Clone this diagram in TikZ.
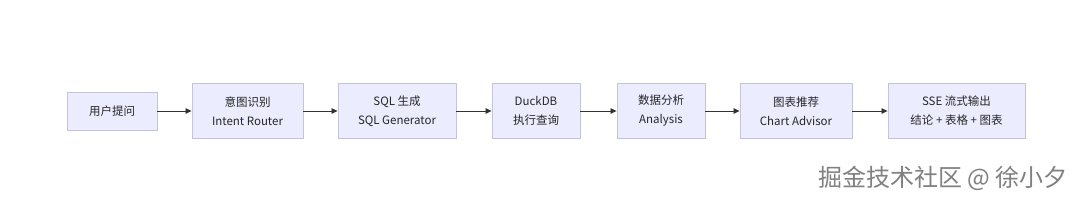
\documentclass[tikz,border=0pt]{standalone}
\usepackage{fontspec}
\setmainfont{Noto Sans CJK SC}
\newfontfamily\cjk{Noto Sans CJK SC}
\usetikzlibrary{arrows.meta}
\definecolor{boxfill}{HTML}{ECECFF}
\definecolor{boxline}{HTML}{C4C2DC}
\definecolor{arrowc}{HTML}{333333}
\definecolor{wm}{HTML}{808080}
\begin{document}
\begin{tikzpicture}[x=1pt,y=-1pt,
  stage/.style={draw=boxline, fill=boxfill, line width=0.9pt, minimum height=55pt,
    inner sep=0pt, align=center, font=\cjk\fontsize{11.5}{19}\selectfont, text=black!85},
  flow/.style={draw=arrowc, line width=0.8pt, -{Triangle[length=6pt,width=5.5pt]}}]
\useasboundingbox (0,0) rectangle (1080,201);
\fill[white] (0,0) rectangle (1080,201);
\node[stage, minimum width=90pt, minimum height=38pt] (n1) at (112,111) {用户提问};
\node[stage, minimum width=111pt] (n2) at (247.5,111) {意图识别\\Intent Router};
\node[stage, minimum width=118pt] (n3) at (397,111) {SQL 生成\\SQL Generator};
\node[stage, minimum width=88pt] (n4) at (536,111) {DuckDB\\执行查询};
\node[stage, minimum width=88pt] (n5) at (661,111) {数据分析\\Analysis};
\node[stage, minimum width=112pt] (n6) at (796,111) {图表推荐\\Chart Advisor};
\node[stage, minimum width=137pt] (n7) at (956.5,111) {SSE 流式输出\\结论 + 表格 + 图表};
\draw[flow] (n1) -- (n2);
\draw[flow] (n2) -- (n3);
\draw[flow] (n3) -- (n4);
\draw[flow] (n4) -- (n5);
\draw[flow] (n5) -- (n6);
\draw[flow] (n6) -- (n7);
\node[anchor=east, text=wm, font=\cjk\fontsize{24}{24}\selectfont, inner sep=0pt] (wmark) at (1068,178) {掘金技术社区 @ 徐小夕};
\end{tikzpicture}
\end{document}
